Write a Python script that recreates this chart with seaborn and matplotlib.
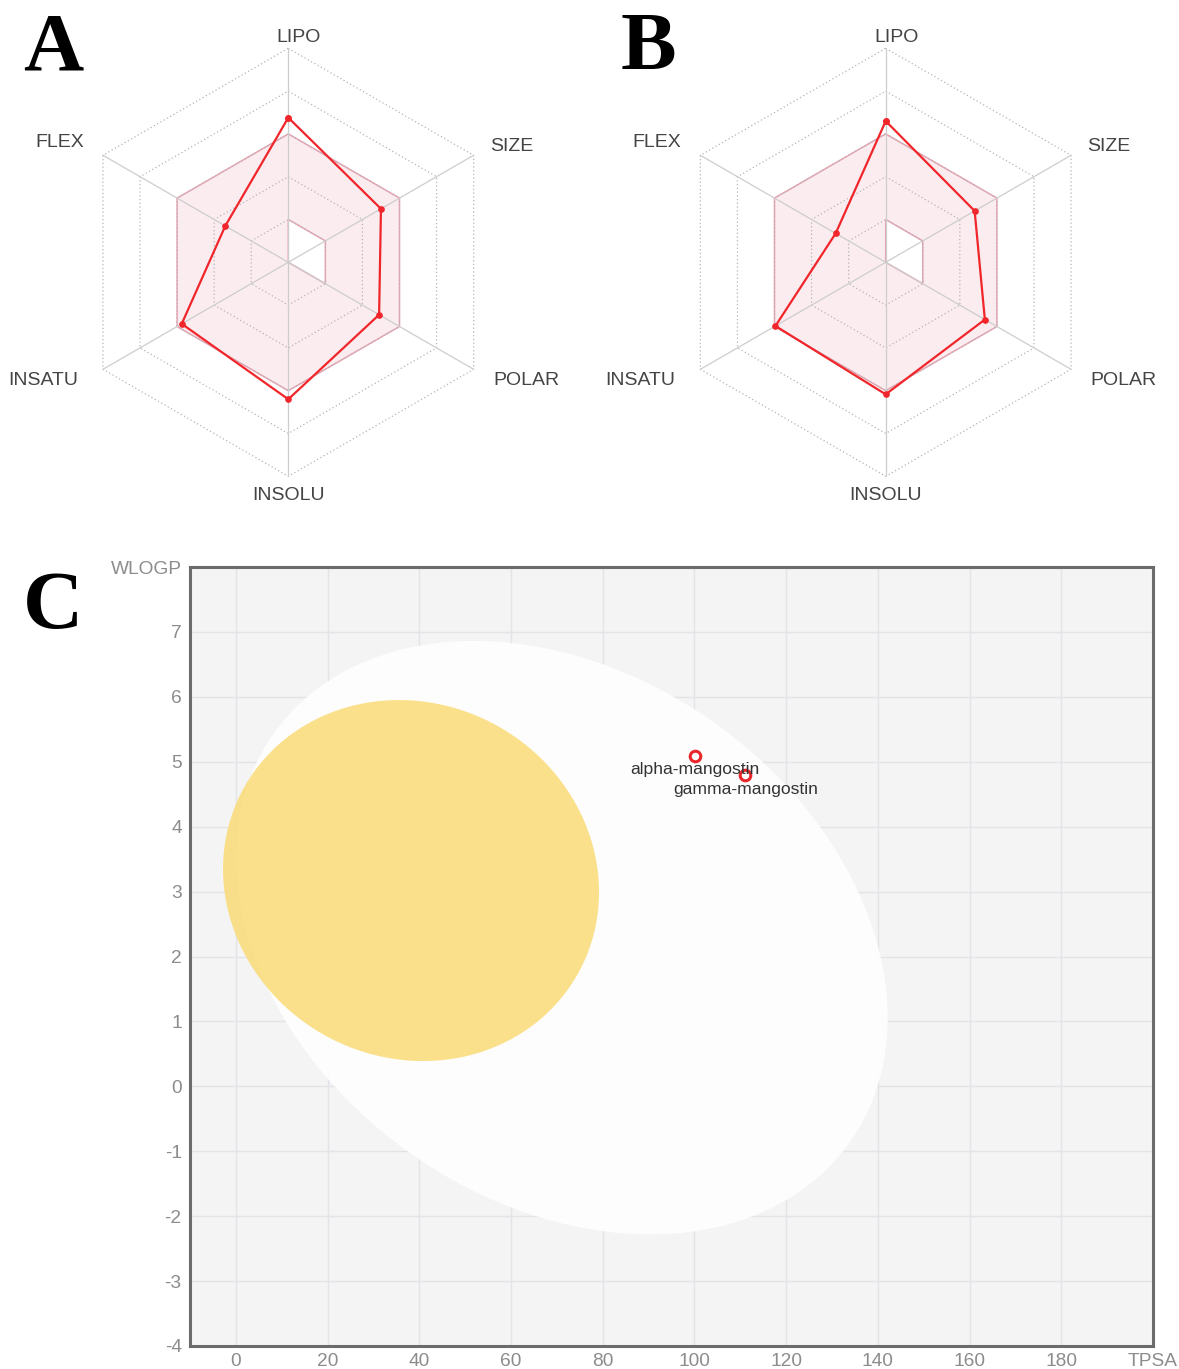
import numpy as np
import pandas as pd
import matplotlib
matplotlib.use("Agg")
import matplotlib.pyplot as plt
import seaborn as sns
from matplotlib.patches import Ellipse, PathPatch
from matplotlib.path import Path

sns.set_theme(style="white")
plt.rcParams["font.family"] = ["Liberation Sans", "DejaVu Sans"]

# ---- bioavailability radar data (normalised 0..1 along each axis) ----
radar_axes = ["LIPO", "SIZE", "POLAR", "INSOLU", "INSATU", "FLEX"]
alpha_radar = [0.676, 0.50, 0.49, 0.64, 0.575, 0.34]
gamma_radar = [0.66, 0.48, 0.535, 0.617, 0.595, 0.27]
optimal_outer = [0.6, 0.6, 0.6, 0.6, 0.6, 0.6]
optimal_inner = [0.2, 0.2, 0.2, 0.0, 0.0, 0.0]
ring_levels = [0.2, 0.4, 0.6, 0.8, 1.0]

# ---- BOILED-Egg data ----
compounds = ["alpha-mangostin", "gamma-mangostin"]
tpsa = [100.13, 111.13]
wlogp = [5.09, 4.79]
hia_center = (71.1, 2.29)
hia_size = (142.1, 8.8)
hia_angle = -1.0
bbb_center = (38.2, 3.17)
bbb_size = (82.0, 5.55)
bbb_angle = -0.25
x_ticks = [0, 20, 40, 60, 80, 100, 120, 140, 160, 180, 200]
x_tick_labels = ["0", "20", "40", "60", "80", "100", "120", "140", "160", "180", "TPSA"]
y_ticks = [-4, -3, -2, -1, 0, 1, 2, 3, 4, 5, 6, 7, 8]
y_tick_labels = ["-4", "-3", "-2", "-1", "0", "1", "2", "3", "4", "5", "6", "7", "WLOGP"]

W, H = 1179, 1369
fig = plt.figure(figsize=(W / 100, H / 100), dpi=100)
fig.patch.set_facecolor("white")

# label placement around the radar, in units of the outer radius
label_offsets = [(0.05, 1.051), (1.042, 0.542), (1.112, -0.551),
                 (0.0, -1.089), (-1.145, -0.551), (-1.07, 0.561)]


def spokes_xy(values):
    ang = np.deg2rad(90 - 60 * np.arange(len(values)))
    v = np.asarray(values, dtype=float)
    return v * np.cos(ang), v * np.sin(ang)


def draw_radar(ax, values):
    n = len(radar_axes)
    # optimal range band
    ox, oy = spokes_xy(optimal_outer)
    ix, iy = spokes_xy(optimal_inner)
    verts = list(zip(ox, oy)) + [(ox[0], oy[0])]
    verts += list(zip(ix[::-1], iy[::-1])) + [(ix[-1], iy[-1])]
    codes = ([Path.MOVETO] + [Path.LINETO] * (n - 1) + [Path.CLOSEPOLY]) * 2
    band = PathPatch(Path(verts, codes), facecolor="#f7d5df", alpha=0.45,
                     edgecolor="none", zorder=1)
    ax.add_patch(band)
    edge = PathPatch(Path(verts, codes), facecolor="none",
                     edgecolor="#e9a3b3", lw=1.1, zorder=1.5)
    ax.add_patch(edge)
    # rings
    for lv in ring_levels:
        rx, ry = spokes_xy([lv] * n)
        ax.plot(np.r_[rx, rx[0]], np.r_[ry, ry[0]], color="#b5b5b5",
                lw=0.9, ls=(0, (1, 2)), zorder=2)
    # spokes
    sx, sy = spokes_xy([1.0] * n)
    for x, y in zip(sx, sy):
        ax.plot([0, x], [0, y], color="#cdcdcd", lw=0.9, zorder=2)
    # compound profile
    px, py = spokes_xy(values)
    ax.plot(np.r_[px, px[0]], np.r_[py, py[0]], color="#f0262b", lw=1.6,
            marker="o", ms=3.8, zorder=3)
    for name, (dx, dy) in zip(radar_axes, label_offsets):
        ax.text(dx, dy, name, ha="center", va="center", fontsize=14,
                color="#444444")
    lim = 250 / 214
    ax.set_xlim(-lim, lim)
    ax.set_ylim(-lim, lim)
    ax.axis("off")


def radar_axes_at(cx, cy, half=250):
    return fig.add_axes([(cx - half) / W, (H - cy - half) / H,
                         2 * half / W, 2 * half / H])


axA = radar_axes_at(288.3, 262.3)
draw_radar(axA, alpha_radar)
axB = radar_axes_at(885.7, 262.3)
draw_radar(axB, gamma_radar)

# ---- BOILED-Egg panel ----
axC = fig.add_axes([190 / W, 23 / H, 963 / W, 779 / H])
axC.set_facecolor("#f4f4f4")
axC.set_xlim(-10, 200)
axC.set_ylim(-4, 8)
axC.set_axisbelow(True)
axC.grid(True, color="#e1e4e8", lw=1.0)
axC.add_patch(Ellipse(hia_center, hia_size[0], hia_size[1], angle=hia_angle,
                      facecolor="white", alpha=0.9, edgecolor="none", zorder=1))
axC.add_patch(Ellipse(bbb_center, bbb_size[0], bbb_size[1], angle=bbb_angle,
                      facecolor="#fbdb78", alpha=0.85, edgecolor="none", zorder=2))

df = pd.DataFrame({"name": compounds, "TPSA": tpsa, "WLOGP": wlogp})
sns.scatterplot(data=df, x="TPSA", y="WLOGP", ax=axC, s=58, color="white",
                edgecolor="#e8262b", linewidth=2.2, zorder=5, legend=False)
for name, x, y in zip(compounds, tpsa, wlogp):
    axC.annotate(name, (x, y), xytext=(0, -10), textcoords="offset points",
                 ha="center", va="center", fontsize=12.6, color="#333333",
                 zorder=6)

axC.set_xticks(x_ticks)
axC.set_xticklabels(x_tick_labels)
axC.set_yticks(y_ticks)
axC.set_yticklabels(y_tick_labels)
axC.set_xlabel("")
axC.set_ylabel("")
axC.tick_params(axis="both", length=0, labelsize=13.8, labelcolor="#8c8c8c")
axC.tick_params(axis="y", pad=6)
axC.tick_params(axis="x", pad=5)
for sp in axC.spines.values():
    sp.set_visible(True)
    sp.set_color("#6b6b6b")
    sp.set_linewidth(2.2)
    sp.set_zorder(10)

# ---- panel letters ----
for letter, (lx, ly) in zip(["A", "B", "C"], [(53, 69), (648, 69), (53, 628)]):
    fig.text(lx / W, 1 - ly / H, letter, ha="center", va="baseline",
             fontsize=60, fontweight="bold",
             family=["Liberation Serif", "DejaVu Serif"], color="black")

fig.savefig("out.png", dpi=100, facecolor="white")
